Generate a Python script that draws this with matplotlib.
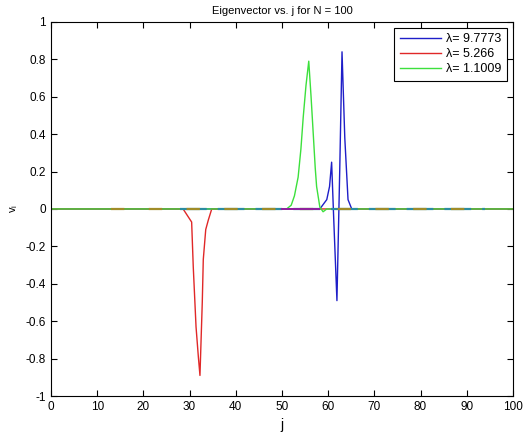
import matplotlib
matplotlib.use("Agg")
import matplotlib.pyplot as plt

plt.rcParams['font.family'] = ['Liberation Sans', 'DejaVu Sans']

# eigenvector components (j, v_j)
blue_j = [0, 58.2, 59.7, 60.3, 60.75, 61.2, 61.9, 62.5, 63.0, 63.6, 64.3, 65.1, 100]
blue_v = [0, 0, 0.05, 0.12, 0.25, -0.05, -0.49, 0.2, 0.84, 0.38, 0.05, 0, 0]

red_j = [0, 28.6, 30.45, 30.8, 31.4, 31.9, 32.25, 32.75, 32.97, 33.5, 34.05, 34.8, 100]
red_v = [0, 0, -0.07, -0.31, -0.63, -0.79, -0.89, -0.5, -0.27, -0.11, -0.06, 0, 0]

green_j = [0, 51.0, 52.0, 52.7, 53.5, 54.1, 54.6, 55.2, 55.8, 56.3, 56.8, 57.2, 57.5,
           58.2, 58.9, 59.7, 100]
green_v = [0, 0, 0.02, 0.07, 0.17, 0.32, 0.49, 0.66, 0.79, 0.6, 0.39, 0.22, 0.12,
           0.01, -0.015, 0, 0]

labels = ["λ= 9.7773", "λ= 5.266", "λ= 1.1009"]

# other (near-zero) eigenvectors, not in the legend
olive_j = [13, 94]
olive_v = [0, 0]
teal_j = [28, 94]
teal_v = [0, 0]
purple_j = [50, 58]
purple_v = [0, 0]

fig = plt.figure(figsize=(5.31, 4.32), dpi=100)
ax = fig.add_axes([0.096, 0.0833, 0.87, 0.866])

ax.plot(blue_j, blue_v, color='#1e1ec8', lw=1.0, label=labels[0])
ax.plot(red_j, red_v, color='#e02828', lw=1.0, label=labels[1])
ax.plot(green_j, green_v, color='#3ce03c', lw=1.0, label=labels[2])
ax.plot(teal_j, teal_v, color='#2a8ca0', lw=1.6, dashes=(12, 5))
ax.plot(olive_j, olive_v, color='#a08c28', lw=1.6, dashes=(6, 11))
ax.plot(purple_j, purple_v, color='#9020a0', lw=1.4)

ax.set_xlim(0, 100)
ax.set_ylim(-1, 1)
ax.set_xticks(range(0, 101, 10))
ax.set_yticks([-1, -0.8, -0.6, -0.4, -0.2, 0, 0.2, 0.4, 0.6, 0.8, 1])
ax.set_yticklabels(['-1', '-0.8', '-0.6', '-0.4', '-0.2', '0', '0.2', '0.4', '0.6', '0.8', '1'])
ax.tick_params(direction='in', top=True, right=True, length=4, labelsize=8.5)

ax.set_title("Eigenvector vs. j for N = 100", fontsize=8)
ax.set_xlabel("j", fontsize=10)
ax.set_ylabel("v$_\\mathregular{i}$", fontsize=8)

leg = ax.legend(loc='upper right', fontsize=9, fancybox=False, framealpha=1,
                edgecolor='black', handlelength=3.3, handletextpad=0.4,
                borderpad=0.45, labelspacing=0.25, borderaxespad=0.45)
leg.get_frame().set_linewidth(0.8)

fig.savefig("out.png", dpi=100)
